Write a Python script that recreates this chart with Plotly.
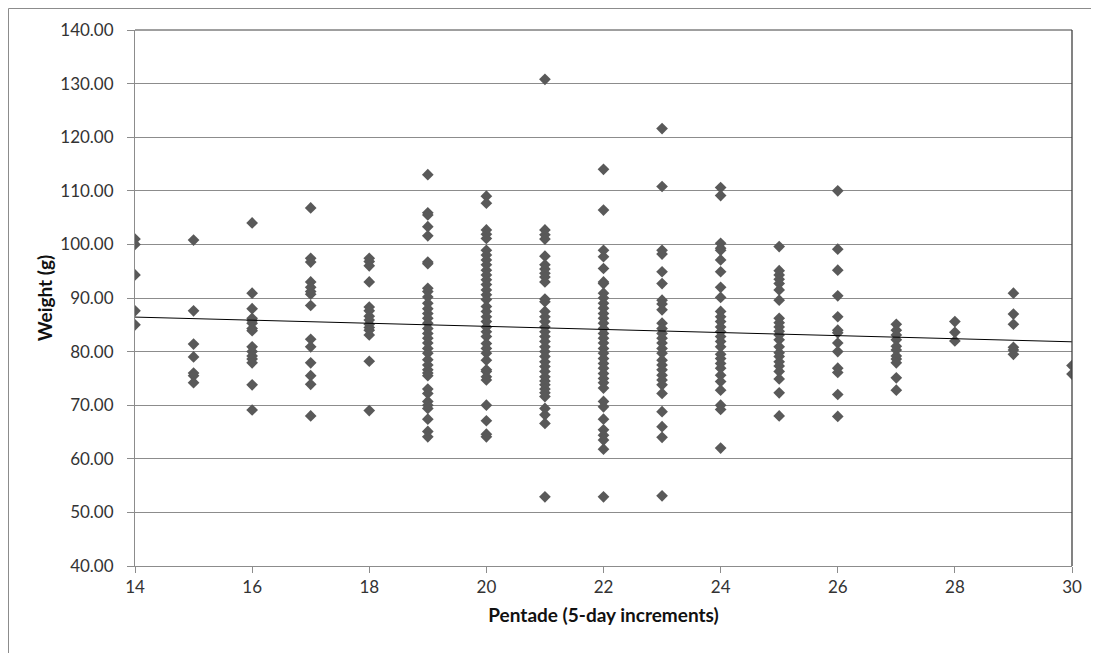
import numpy as np
import plotly.graph_objects as go

# Pentade (x) -> weights (g)
p14 = [101.0, 100.0, 94.3, 87.6, 85.0]
p15 = [100.8, 87.6, 81.4, 79.0, 76.0, 75.5, 74.2]
p16 = [104.0, 90.9, 88.0, 86.2, 85.8, 85.3, 84.3, 83.9, 80.9, 80.0, 79.2, 78.6, 77.9, 73.8, 69.1]
p17 = [106.8, 97.4, 96.7, 93.0, 92.0, 91.2, 90.7, 88.6, 82.3, 80.9, 77.9, 75.5, 73.9, 68.0]
p18 = [97.4, 96.8, 96.0, 93.0, 88.3, 87.6, 86.6, 85.9, 85.1, 84.5, 84.0, 83.1, 78.2, 69.0]
p19 = [113.0, 105.9, 105.5, 103.3, 101.6, 96.7, 96.4, 91.8, 91.2, 90.2, 89.0, 88.0, 87.1, 86.2,
       85.3, 84.3, 83.4, 82.5, 81.6, 80.6, 79.7, 78.5, 77.5, 76.6, 76.0, 75.5, 73.0, 72.2, 70.7,
       70.0, 69.4, 67.4, 65.1, 64.1]
p20 = [109.0, 107.7, 102.7, 101.9, 101.1, 98.9, 98.0, 97.1, 96.2, 95.2, 94.3, 93.4, 92.5, 91.5,
       90.6, 89.7, 88.4, 87.5, 86.5, 85.6, 84.6, 83.7, 82.8, 81.5, 80.6, 79.7, 78.4, 76.6, 76.3,
       75.3, 74.7, 70.0, 67.1, 64.6, 64.1]
p21 = [130.8, 102.7, 101.8, 101.0, 97.8, 96.2, 95.4, 94.6, 93.9, 93.0, 89.8, 89.3, 87.5, 86.5,
       85.6, 84.6, 83.7, 82.8, 81.9, 80.9, 80.0, 79.1, 78.1, 77.2, 76.3, 75.3, 74.5, 73.8, 73.0,
       72.3, 71.6, 69.4, 68.2, 66.6, 52.9]
p22 = [114.0, 106.4, 98.9, 97.7, 95.5, 93.0, 92.7, 90.9, 90.0, 89.0, 88.1, 87.1, 86.2, 85.3,
       84.3, 83.4, 82.5, 81.6, 80.6, 79.7, 78.7, 77.8, 76.9, 75.9, 75.0, 74.2, 73.2, 70.7, 69.7,
       67.4, 65.4, 64.4, 63.5, 61.8, 52.9]
p23 = [121.6, 110.8, 98.9, 98.2, 94.9, 92.7, 89.6, 88.9, 87.8, 85.3, 84.3, 83.4, 82.5, 81.6,
       80.6, 79.7, 78.4, 77.5, 76.6, 75.6, 74.7, 73.8, 72.2, 68.8, 66.0, 64.0, 53.1]
p24 = [110.6, 109.1, 100.2, 99.3, 98.9, 97.1, 94.9, 92.0, 90.1, 87.5, 86.5, 85.6, 84.6, 83.7,
       82.8, 81.9, 80.9, 79.5, 78.7, 77.8, 76.9, 75.6, 74.4, 72.8, 70.0, 69.2, 62.0]
p25 = [99.6, 95.1, 94.3, 93.5, 92.7, 91.5, 89.6, 86.2, 85.4, 84.6, 83.8, 83.1, 82.2, 80.9, 79.8,
       79.1, 78.1, 77.3, 76.3, 74.9, 72.3, 68.0]
p26 = [110.0, 99.1, 95.2, 90.4, 86.5, 84.0, 83.5, 81.6, 80.0, 76.9, 76.1, 72.0, 67.9]
p27 = [85.1, 84.0, 83.1, 82.2, 81.0, 80.3, 79.2, 78.6, 77.9, 75.1, 72.8]
p28 = [85.6, 83.6, 82.0]
p29 = [90.9, 87.0, 85.1, 80.8, 80.3, 79.5]
p30 = [77.4, 75.8]

pentades = list(range(14, 31))
weights = [p14, p15, p16, p17, p18, p19, p20, p21, p22, p23, p24, p25, p26, p27, p28, p29, p30]

xs, ys = [], []
for p, w in zip(pentades, weights):
    xs += [p] * len(w)
    ys += w

slope, intercept = np.polyfit(xs, ys, 1)
tx = [14, 30]
ty = [intercept + slope * t for t in tx]

y_ticks = [40, 50, 60, 70, 80, 90, 100, 110, 120, 130, 140]
y_labels = [f"{v:.2f}" for v in y_ticks]
x_ticks = list(range(14, 31, 2))

FONT = "Lato, 'Open Sans', sans-serif"

fig = go.Figure()
fig.add_trace(go.Scatter(
    x=xs, y=ys, mode="markers",
    marker=dict(symbol="diamond", size=9, color="#595959"),
    showlegend=False, hoverinfo="x+y"))
fig.add_trace(go.Scatter(
    x=tx, y=ty, mode="lines",
    line=dict(color="#000000", width=1),
    showlegend=False, hoverinfo="skip"))

# page has an 8px body margin, so the figure is sized/offset to compensate
OFF = 8
W, H = 1091, 645
L, R, T, B = 135 - OFF, 27, 30 - OFF, 87
pw, ph = W - L - R, H - T - B

def px2paper_x(px):
    return (px - OFF - L) / pw

def px2paper_y(py):
    return (H - B - (py - OFF)) / ph

# outer chart border
fig.add_shape(type="rect", xref="paper", yref="paper",
              x0=px2paper_x(8.5), x1=px2paper_x(1120), y0=px2paper_y(720), y1=px2paper_y(8.5),
              line=dict(color="#8c8c8c", width=1), fillcolor="rgba(0,0,0,0)", layer="below")
# dark top and right plot-area edges
fig.add_shape(type="line", xref="paper", yref="paper", x0=0, x1=1, y0=1, y1=1,
              line=dict(color="#404040", width=1))
fig.add_shape(type="line", xref="paper", yref="paper", x0=1, x1=1, y0=0, y1=1,
              line=dict(color="#404040", width=1.3))

fig.update_layout(
    width=W, height=H,
    margin=dict(l=L, r=R, t=T, b=B),
    paper_bgcolor="white", plot_bgcolor="white",
    font=dict(family=FONT, size=17, color="#333333"),
    xaxis=dict(
        range=[14, 30], tickvals=x_ticks, ticktext=[str(v) for v in x_ticks],
        showgrid=False, zeroline=False, showline=True, linecolor="#8c8c8c", linewidth=1,
        ticks="outside", ticklen=6, tickcolor="#8c8c8c",
        tickfont=dict(size=17, color="#333333"),
        title=dict(text="<b>Pentade (5-day increments)</b>", font=dict(size=19, color="#111111"),
                   standoff=12),
    ),
    yaxis=dict(
        range=[40, 140], tickvals=y_ticks, ticktext=y_labels,
        showgrid=True, gridcolor="#8c8c8c", gridwidth=1, zeroline=False,
        showline=True, linecolor="#8c8c8c", linewidth=1,
        ticks="outside", ticklen=7, tickcolor="#8c8c8c",
        tickfont=dict(size=17, color="#333333"),
        ticklabelstandoff=10,
        title=dict(text="<b>Weight (g)</b>", font=dict(size=19, color="#111111"), standoff=2),
    ),
)

fig.write_html("out.html")
